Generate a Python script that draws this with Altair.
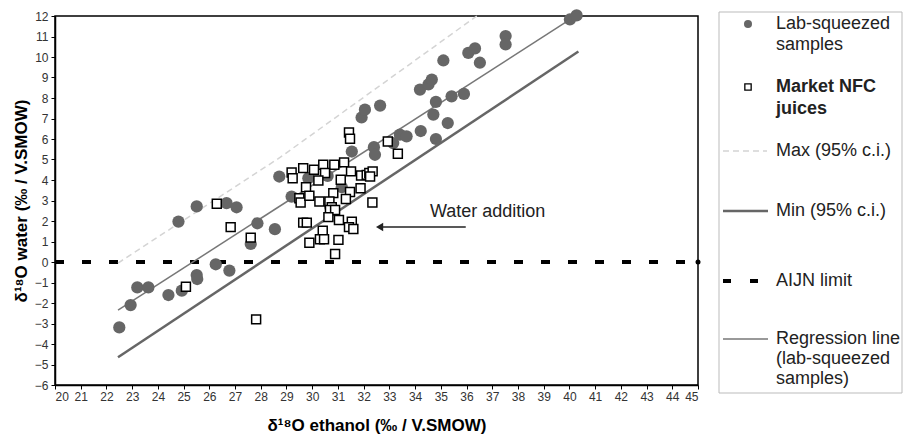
import altair as alt
import pandas as pd

# ---------------- data ----------------
lab_x = [22.50, 22.94, 23.20, 23.63, 24.41, 24.93, 25.51, 25.53, 26.25, 26.78,
         24.80, 25.51, 26.67, 27.06, 27.87, 28.55, 27.61, 28.72, 29.20, 29.85,
         30.60, 31.15, 30.70, 31.54, 32.40, 32.44, 31.92, 32.05, 32.64, 33.15,
         33.41, 33.67, 34.22, 34.81, 35.27, 34.71, 34.81, 35.42, 35.90, 34.19,
         34.52, 34.65, 35.10, 36.07, 36.33, 36.52, 37.52, 37.52, 40.02, 40.28]
lab_y = [-3.19, -2.10, -1.24, -1.24, -1.61, -1.40, -0.64, -0.83, -0.11, -0.42,
         1.97, 2.71, 2.87, 2.67, 1.89, 1.60, 0.88, 4.17, 3.19, 4.09,
         4.20, 3.65, 2.70, 5.39, 5.60, 5.23, 7.05, 7.43, 7.63, 5.80,
         6.21, 6.13, 6.39, 6.00, 6.78, 7.19, 7.81, 8.08, 8.20, 8.41,
         8.66, 8.90, 9.83, 10.20, 10.42, 9.72, 11.02, 10.61, 11.83, 12.03]

nfc_x = [26.29, 26.83, 27.61, 25.09, 27.82, 29.20, 29.24, 29.50, 31.43, 31.47,
         32.94, 33.33, 29.65, 30.07, 30.43, 30.86, 31.24, 30.50, 30.24, 31.51,
         31.11, 31.90, 32.12, 32.22, 32.35, 32.25, 29.76, 30.82, 31.47, 31.88,
         29.55, 29.89, 30.28, 30.67, 30.76, 30.69, 30.89, 31.31, 30.63, 32.34,
         29.65, 29.79, 31.04, 31.54, 31.43, 31.60, 30.41, 29.89, 30.30, 30.46,
         31.02, 30.89]
nfc_y = [2.84, 1.70, 1.19, -1.21, -2.80, 4.37, 4.09, 3.11, 6.32, 6.01,
         5.88, 5.28, 4.58, 4.50, 4.74, 4.74, 4.86, 4.34, 3.98, 4.42,
         4.01, 4.22, 4.25, 4.34, 4.42, 4.17, 3.65, 3.36, 3.41, 3.60,
         2.90, 3.23, 2.95, 2.95, 2.67, 2.54, 2.54, 3.07, 2.19, 2.90,
         1.92, 1.92, 2.05, 1.97, 1.70, 1.61, 1.53, 0.94, 1.11, 1.11,
         1.08, 0.39]

reg_x = [22.45, 40.30]
reg_y = [-2.35, 12.05]
min_x = [22.45, 40.35]
min_y = [-4.65, 10.27]
max_x = [22.45, 28.75, 36.40]
max_y = [-0.05, 5.10, 12.00]
aijn_x = [20, 45]
aijn_y = [0, 0]

arrow_x = [32.62, 35.97]
arrow_y = [1.71, 1.71]
note_text = "Water addition"

x_ticks = list(range(20, 46))
y_ticks = list(range(-6, 13))

legend_labels = ["Lab-squeezed", "samples", "Market NFC", "juices",
                 "Max (95% c.i.)", "Min (95% c.i.)", "AIJN limit",
                 "Regression line", "(lab-squeezed", "samples)"]

# ---------------- styling ----------------
FONT = "Liberation Sans"
W, H = 643, 369
GRAY = "#666666"

xs = alt.Scale(domain=[20, 45], nice=False, zero=False)
ys = alt.Scale(domain=[-6, 12], nice=False, zero=False)

x_axis = alt.Axis(values=x_ticks, title="δ¹⁸O ethanol (‰ / V.SMOW)", grid=False,
                  labelFont=FONT, labelFontSize=12, labelColor="#333333",
                  titleFont=FONT, titleFontSize=17, titleFontWeight="bold",
                  titleColor="black", domainColor="black", domainWidth=1.5,
                  tickColor="black", tickSize=4, labelPadding=2,
                  titleX=W / 2, titleY=40, titleBaseline="middle")
y_axis = alt.Axis(values=y_ticks, title="δ¹⁸O water (‰ / V.SMOW)", grid=False,
                  labelFont=FONT, labelFontSize=12, labelColor="#333333",
                  titleFont=FONT, titleFontSize=17, titleFontWeight="bold",
                  titleColor="black", domainColor="black", domainWidth=1.5,
                  tickColor="black", tickSize=4, labelPadding=3,
                  titleX=-34, titleY=H / 2, titleAngle=270,
                  titleBaseline="middle", titleAlign="center")

lab_df = pd.DataFrame({"x": lab_x, "y": lab_y})
nfc_df = pd.DataFrame({"x": nfc_x, "y": nfc_y})
reg_df = pd.DataFrame({"x": reg_x, "y": reg_y})
min_df = pd.DataFrame({"x": min_x, "y": min_y})
max_df = pd.DataFrame({"x": max_x, "y": max_y})
aijn_df = pd.DataFrame({"x": aijn_x, "y": aijn_y})
arrow_df = pd.DataFrame({"x": arrow_x, "y": arrow_y})


def xy():
    return dict(x=alt.X("x:Q", scale=xs, axis=x_axis),
                y=alt.Y("y:Q", scale=ys, axis=y_axis))


aijn = alt.Chart(aijn_df).mark_line(color="black", strokeWidth=4,
                                    strokeDash=[9, 18]).encode(**xy())
aijn_dot = alt.Chart(aijn_df.iloc[[1]]).mark_point(
    filled=True, color="black", size=25, opacity=1).encode(**xy())
max_line = alt.Chart(max_df).mark_line(color="#d4d4d4", strokeWidth=1.5,
                                       strokeDash=[6, 4]).encode(**xy())
min_line = alt.Chart(min_df).mark_line(color=GRAY, strokeWidth=2.5).encode(**xy())
reg_line = alt.Chart(reg_df).mark_line(color="#777777", strokeWidth=1.5).encode(**xy())

lab_pts = alt.Chart(lab_df).mark_circle(color=GRAY, size=150, opacity=1).encode(**xy())
nfc_pts = alt.Chart(nfc_df).mark_square(filled=False, color="black", size=80,
                                        strokeWidth=1.5, fill="white",
                                        fillOpacity=1, opacity=1).encode(**xy())

arrow_line = alt.Chart(arrow_df).mark_line(color="#222222", strokeWidth=1.5).encode(**xy())
arrow_head = alt.Chart(arrow_df.iloc[[0]]).mark_point(
    shape="triangle-left", filled=True, color="#222222", size=70, opacity=1).encode(**xy())
note = alt.Chart(pd.DataFrame({"x": [36.82], "y": [2.45], "t": [note_text]})).mark_text(
    font=FONT, fontSize=18, color="#222222", align="center", baseline="middle"
).encode(text="t:N", **xy())

# ---------------- legend (layout only) ----------------
one = pd.DataFrame({"a": [0]})
LX0, LX1 = 664, 847
legend_box = alt.Chart(one).mark_rect(fill="white", stroke="#bbbbbb", strokeWidth=1).encode(
    x=alt.value(LX0), x2=alt.value(LX1), y=alt.value(-4), y2=alt.value(377))

TX = 721
rows_y = [8, 29, 71, 93, 135, 195, 265, 323, 343, 363]
legend_items = []
for i, (lbl, yy) in enumerate(zip(legend_labels, rows_y)):
    bold = i in (2, 3)
    legend_items.append(
        alt.Chart(one).mark_text(font=FONT, fontSize=18, color="#222222",
                                 fontWeight="bold" if bold else "normal",
                                 align="left", baseline="middle", text=lbl)
        .encode(x=alt.value(TX), y=alt.value(yy)))

leg_circle = alt.Chart(one).mark_circle(color=GRAY, size=65, opacity=1).encode(
    x=alt.value(693), y=alt.value(rows_y[0]))
leg_square = alt.Chart(one).mark_square(filled=False, color="black", size=40,
                                        strokeWidth=1.3, opacity=1).encode(
    x=alt.value(693), y=alt.value(rows_y[2]))
leg_max = alt.Chart(one).mark_rule(color="#d4d4d4", strokeWidth=1.5, strokeDash=[6, 4]).encode(
    x=alt.value(668), x2=alt.value(712), y=alt.value(rows_y[4]))
leg_min = alt.Chart(one).mark_rule(color=GRAY, strokeWidth=2.5).encode(
    x=alt.value(668), x2=alt.value(713), y=alt.value(rows_y[5]))
leg_aijn = alt.Chart(one).mark_rule(color="black", strokeWidth=4, strokeDash=[8, 19]).encode(
    x=alt.value(668), x2=alt.value(704), y=alt.value(rows_y[6]))
leg_reg = alt.Chart(one).mark_rule(color="#777777", strokeWidth=1.5).encode(
    x=alt.value(668), x2=alt.value(713), y=alt.value(rows_y[7]))

chart = alt.layer(
    aijn, max_line, min_line, reg_line, lab_pts, nfc_pts, aijn_dot,
    arrow_line, arrow_head, note,
    legend_box, leg_circle, leg_square, leg_max, leg_min, leg_aijn, leg_reg,
    *legend_items
).properties(
    width=W, height=H,
    padding={"left": 55, "top": 16, "right": 206, "bottom": 50},
    autosize=alt.AutoSizeParams(type="none"),
    background="white"
).configure_view(stroke="black", strokeWidth=1.5)

chart.save("out.html", embed_options={"renderer": "svg", "actions": False})
